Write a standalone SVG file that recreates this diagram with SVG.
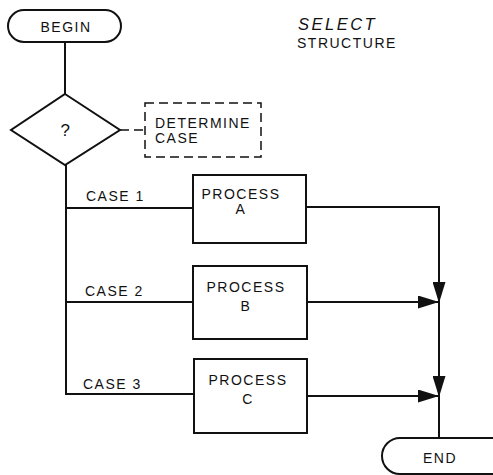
<svg xmlns="http://www.w3.org/2000/svg" width="493" height="475" viewBox="0 0 493 475">
<style>
.s{fill:none;stroke:#111;stroke-width:2}
.d{fill:none;stroke:#111;stroke-width:1.5;stroke-dasharray:9,5}
.t{font-family:"Liberation Sans",Arial,sans-serif;font-size:14px;fill:#111;letter-spacing:1.5px}
.c{text-anchor:middle}
</style>
<defs>
<marker id="ah" markerWidth="21" markerHeight="13" refX="21" refY="6.5" orient="auto" markerUnits="userSpaceOnUse">
<path d="M0,0 L21,6.5 L0,13 Z" fill="#111"/>
</marker>
</defs>
<rect width="493" height="475" fill="#fff"/>
<g id="title">
<text class="t" x="298" y="30" style="font-style:italic;font-size:16.5px;letter-spacing:2.5px">SELECT</text>
<text class="t" x="297" y="48">STRUCTURE</text>
</g>
<g id="connectors">
<path class="s" d="M65,42 V94"/>
<path class="d" d="M120,130 H145"/>
<path class="s" d="M66,165 V394 H194"/>
<path class="s" d="M66,208 H193"/>
<path class="s" d="M66,302 H193"/>
<path class="s" d="M306,207 H439 V303" marker-end="url(#ah)"/>
<path class="s" d="M307,302 H439" marker-end="url(#ah)"/>
<path class="s" d="M439,302 V397" marker-end="url(#ah)"/>
<path class="s" d="M307,396 H439" marker-end="url(#ah)"/>
<path class="s" d="M439,396 V438"/>
<text class="t" x="86" y="201">CASE 1</text>
<text class="t" x="85" y="296">CASE 2</text>
<text class="t" x="83" y="389">CASE 3</text>
</g>
<g id="begin">
<rect class="s" x="8" y="10" width="113" height="32" rx="16"/>
<text class="t c" x="66" y="32">BEGIN</text>
</g>
<g id="decision">
<path class="s" d="M65,94 L120,130 L65,165 L11,130 Z"/>
<text class="t c" x="66" y="136" style="font-size:17px">?</text>
</g>
<g id="determine">
<rect class="d" x="145" y="103" width="116" height="54"/>
<text class="t" x="155" y="128">DETERMINE</text>
<text class="t" x="155" y="143">CASE</text>
</g>
<g id="processA">
<rect class="s" x="193" y="175" width="113" height="68"/>
<text class="t c" x="241" y="199">PROCESS</text>
<text class="t c" x="241" y="214">A</text>
</g>
<g id="processB">
<rect class="s" x="193" y="266" width="114" height="73"/>
<text class="t c" x="246" y="292">PROCESS</text>
<text class="t c" x="246" y="311">B</text>
</g>
<g id="processC">
<rect class="s" x="194" y="359" width="113" height="74"/>
<text class="t c" x="248" y="385">PROCESS</text>
<text class="t c" x="248" y="404">C</text>
</g>
<g id="end">
<rect class="s" x="382" y="438" width="130" height="36" rx="18"/>
<text class="t c" x="440" y="463">END</text>
</g>
</svg>
